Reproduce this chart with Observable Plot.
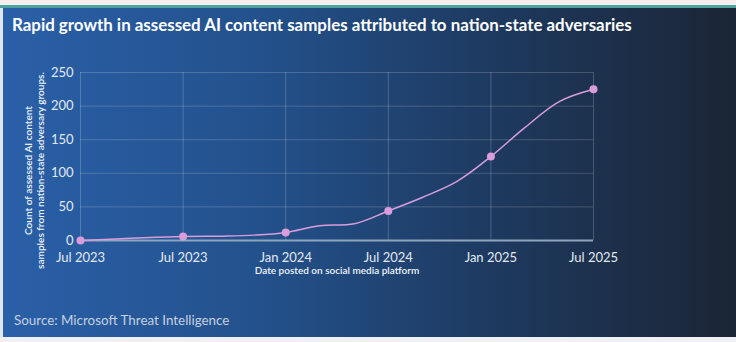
<!DOCTYPE html>
<html><head><meta charset="utf-8">
<script src="https://cdn.jsdelivr.net/npm/d3@7"></script>
<script src="https://cdn.jsdelivr.net/npm/@observablehq/plot@0.6"></script>
<style>
body{margin:0;background:#f7eeee;}
#wrap{position:relative;width:736px;height:342px;overflow:hidden;background:#f6eded;font-family:Lato,sans-serif;}
#teal{position:absolute;left:0;top:5px;width:736px;height:3px;background:#4aa39c;}
#panel{position:absolute;left:3px;top:8px;width:733px;height:329px;background:linear-gradient(to right,#2a60a8 0%,#23518c 35%,#1e3b62 65%,#1b2535 100%);}
#leftedge{position:absolute;left:0;top:8px;width:3px;height:329px;background:#dfe7f0;}
#bottom{position:absolute;left:0;top:337px;width:736px;height:5px;background:#eef0f3;}
#title{position:absolute;left:12px;top:14px;color:#fff;font-size:16.9px;font-weight:700;white-space:nowrap;}
#chart{position:absolute;left:0;top:45px;}
#source{position:absolute;left:14px;top:312px;color:#c5d0e0;font-size:13.4px;white-space:nowrap;}
</style></head>
<body>
<div id="wrap">
  <div id="teal"></div>
  <div id="panel"></div>
  <div id="leftedge"></div>
  <div id="bottom"></div>
  <div id="title"></div>
  <div id="chart"></div>
  <div id="source"></div>
</div>
<script>
const titleText = "Rapid growth in assessed AI content samples attributed to nation-state adversaries";
const sourceText = "Source: Microsoft Threat Intelligence";
const yLabelLines = ["Count of assessed AI content", "samples from nation-state adversary groups."];
const xLabel = "Date posted on social media platform";
const tickLabels = ["Jul 2023","Jul 2023","Jan 2024","Jul 2024","Jan 2025","Jul 2025"];
const yTicks = [0,50,100,150,200,250];
const markerIndex = [0,1,2,3,4,5];
const markerCounts = [0,6,12,44,125,225];
const linePositions = [0,1,1.4,1.7,2,2.33,2.67,3,3.33,3.67,4,4.33,4.67,5];
const lineCounts = [0,6,6.5,8,12,22,25,44,64,88,125,168,207,225];

document.getElementById("title").textContent = titleText;
document.getElementById("source").textContent = sourceText;

const labelStyle = {frameAnchor: "left", textAnchor: "middle", rotate: -90, dy: 14, fontSize: 10.5, fontWeight: 600, fill: "#eef3fa"};

const chart = Plot.plot({
  width: 736, height: 250,
  marginLeft: 80, marginRight: 143, marginTop: 27, marginBottom: 55,
  style: {background: "transparent", color: "#e3e9f2", fontFamily: "Lato, sans-serif", fontSize: "13px", overflow: "visible"},
  x: {type: "linear", domain: [0, 5], label: null},
  y: {domain: [0, 250], label: null},
  marks: [
    Plot.gridY(yTicks, {stroke: "#ffffff", strokeOpacity: 0.18}),
    Plot.gridX(markerIndex, {stroke: "#ffffff", strokeOpacity: 0.2}),
    Plot.axisX(markerIndex, {tickFormat: i => tickLabels[i], tickSize: 0, tickPadding: 12, fontSize: 13, fill: "#e3e9f2"}),
    Plot.axisY(yTicks, {tickSize: 0, tickPadding: 7, fontSize: 13, fill: "#e3e9f2"}),
    Plot.ruleY([0], {stroke: "#8ea5be", strokeWidth: 2}),
    Plot.line(lineCounts, {x: linePositions, y: lineCounts, curve: "catmull-rom", stroke: "#d99ddb", strokeWidth: 1.5}),
    Plot.dot(markerCounts, {x: markerIndex, y: markerCounts, r: 4, fill: "#d99ddb"}),
    Plot.text([yLabelLines[0]], {...labelStyle, dx: -52}),
    Plot.text([yLabelLines[1]], {...labelStyle, dx: -40}),
    Plot.text([xLabel], {frameAnchor: "bottom", dy: 33, fontSize: 10, fontWeight: 600, fill: "#eef3fa"})
  ]
});
document.getElementById("chart").appendChild(chart);

// fit the rotated y-label to the reference length (~197px for the longer line)
const texts = Array.from(chart.querySelectorAll("text"));
const longLine = texts.find(t => t.textContent === yLabelLines[1]);
const shortLine = texts.find(t => t.textContent === yLabelLines[0]);
if (longLine && shortLine) {
  const len = longLine.getComputedTextLength();
  if (len > 0) {
    const fs = 10.5 * 197 / len;
    longLine.setAttribute("font-size", fs);
    shortLine.setAttribute("font-size", fs);
  }
}
</script>
</body></html>
